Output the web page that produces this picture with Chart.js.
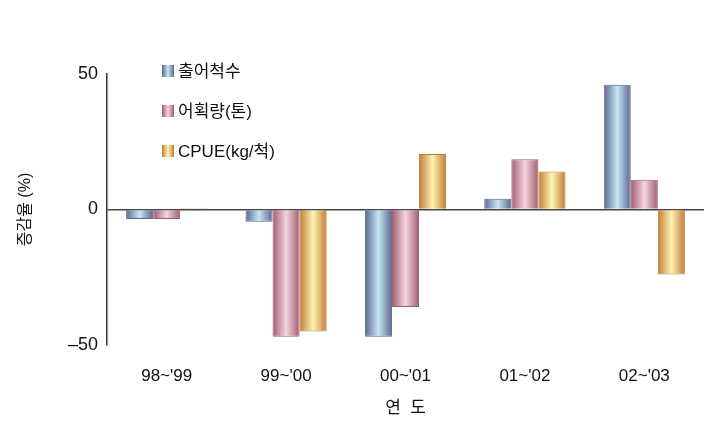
<!DOCTYPE html>
<html>
<head>
<meta charset="utf-8">
<script src="https://cdn.jsdelivr.net/npm/chart.js@4"></script>
<style>
  html, body { margin: 0; padding: 0; background: #fff; }
  #wrap { width: 707px; height: 430px; }
</style>
</head>
<body>
<div id="wrap"><canvas id="myChart" width="707" height="430"></canvas></div>
<script>
const years = ["98~'99", "99~'00", "00~'01", "01~'02", "02~'03"]
const seriesNames = ["출어척수", "어획량(톤)", "CPUE(kg/척)"]
const boats = [-3.5, -4.5, -47, 4, 46]
const catches = [-3.5, -47, -36, 18.5, 11]
const cpue = [0.5, -45, 20.5, 14, -24]
const yTicks = [-50, 0, 50]

// edge / center colours of the shaded bars
const shades = [
    ["#5d6690", "#c6e6f2"],
    ["#a05c70", "#f6d4de"],
    ["#c07c34", "#fff3b4"]
]
const FONT = "'Liberation Sans', 'Noto Sans CJK KR', sans-serif"
const CAT_PCT = 0.68

// horizontal gradient for each bar, based on where the x scale puts it
function barFill(ctx)
{
    const chart = ctx.chart
    const xs = chart.scales.x
    const shade = shades[ctx.datasetIndex]
    if (!xs || !chart.chartArea) return shade[0]
    const catW = xs.width / years.length
    const bw = catW * CAT_PCT / 3
    const left = xs.getPixelForValue(ctx.dataIndex) - 1.5 * bw + ctx.datasetIndex * bw
    const g = chart.ctx.createLinearGradient(left, 0, left + bw, 0)
    g.addColorStop(0, shade[0])
    g.addColorStop(0.5, shade[1])
    g.addColorStop(1, shade[0])
    return g
}

// legend drawn as a vertical list at the upper left
const sideLegend = {
    id: 'sideLegend',
    afterDraw(chart) {
        const c = chart.ctx
        c.save()
        c.font = "17px " + FONT
        c.textBaseline = 'middle'
        chart.data.datasets.forEach((ds, i) => {
            const y = 71 + i * 40
            const g = c.createLinearGradient(162, 0, 174, 0)
            g.addColorStop(0, shades[i][0])
            g.addColorStop(0.5, shades[i][1])
            g.addColorStop(1, shades[i][0])
            c.fillStyle = g
            c.fillRect(162, y - 6, 12, 12)
            c.fillStyle = '#111'
            c.fillText(ds.label, 178, y + 1)
        })
        c.restore()
    }
}

const values = [boats, catches, cpue]
const datasets = seriesNames.map((name, idx) => ({
    label: name,
    data: values[idx],
    backgroundColor: barFill,
    borderColor: shades[idx][0],
    borderWidth: 1,
    categoryPercentage: CAT_PCT,
    barPercentage: 1
}))

new Chart("myChart", {
    type: 'bar',
    data: { labels: years, datasets: datasets },
    plugins: [sideLegend],
    options: {
        responsive: false,
        animation: false,
        layout: { padding: { left: 10, top: 74, right: 3, bottom: 8 } },
        plugins: { legend: { display: false }, tooltip: { enabled: false } },
        scales: {
            x: {
                grid: { display: false },
                border: { display: false },
                ticks: { color: '#111', font: { family: FONT, size: 17 }, padding: 13, maxRotation: 0 },
                title: { display: true, text: '연  도', color: '#111', font: { family: FONT, size: 17 }, padding: { top: 0, bottom: 3 } },
                afterFit: s => { s.height = 430 - 345 - 8 }
            },
            y: {
                min: -50,
                max: 50,
                afterBuildTicks: s => { s.ticks = yTicks.map(v => ({ value: v })) },
                grid: {
                    drawTicks: false,
                    color: ctx => ctx.tick && ctx.tick.value === 0 ? '#444' : 'rgba(0,0,0,0)',
                    lineWidth: 1.5
                },
                border: { display: true, color: '#333', width: 1.5 },
                ticks: {
                    color: '#111',
                    font: { family: FONT, size: 18 },
                    padding: 9,
                    callback: v => v < 0 ? '\u2013' + Math.abs(v) : String(v)
                },
                title: { display: true, text: '증감율 (%)', color: '#111', font: { family: FONT, size: 16 }, padding: { top: 6, bottom: 0 } },
                afterFit: s => { s.width = 107 - 10 }
            }
        }
    }
})
</script>
</body>
</html>
